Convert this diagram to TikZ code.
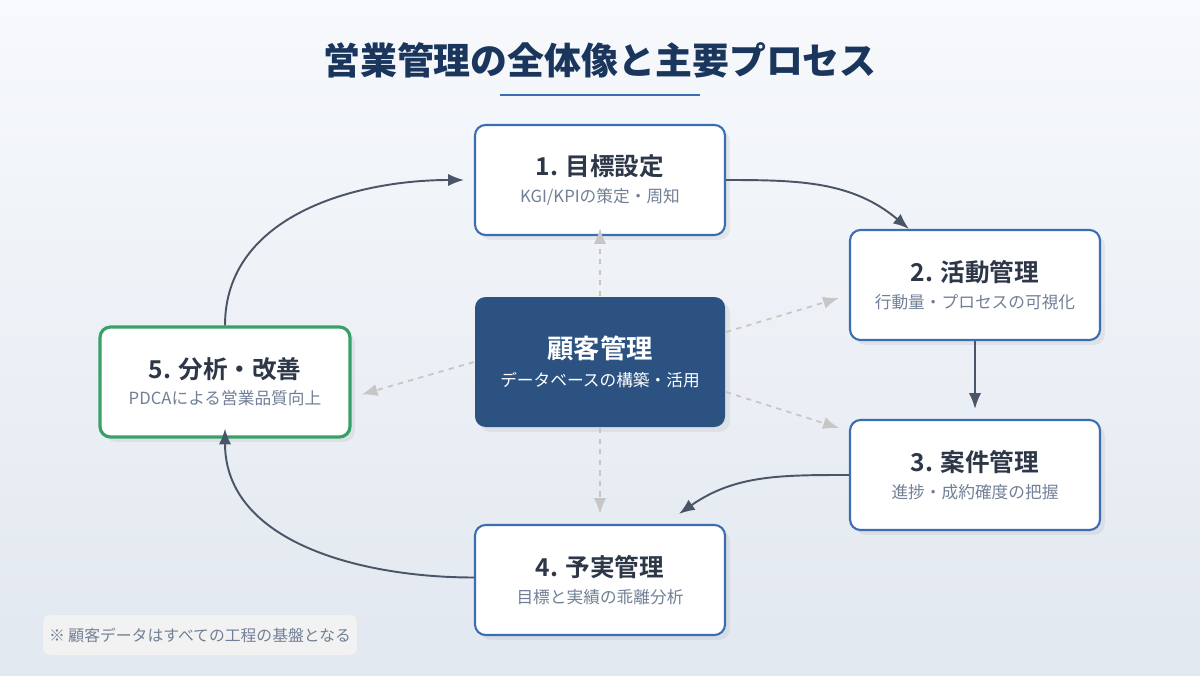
\documentclass[tikz,border=0pt]{standalone}
\usepackage{fontspec}
\setmainfont{Noto Sans CJK JP}[BoldFont={Noto Sans CJK JP Bold}]
\newfontfamily\heavy{Noto Sans CJK JP Black}
\usetikzlibrary{positioning,arrows.meta,shadows}
\definecolor{navy}{HTML}{2C5282}
\definecolor{ink}{HTML}{2D3748}
\definecolor{deep}{HTML}{1A365D}
\definecolor{sub}{HTML}{718096}
\definecolor{edge}{HTML}{3B6DB3}
\definecolor{okgreen}{HTML}{38A169}
\definecolor{arr}{HTML}{4A5568}
\definecolor{bgtop}{HTML}{F7F9FC}
\definecolor{bgbot}{HTML}{E2E8F0}
\tikzset{
  stage/.style={rectangle, rounded corners=6pt, draw=edge, line width=1.2pt, fill=white,
    minimum width=5cm, minimum height=2.2cm, align=center, drop shadow={opacity=0.12}},
  flow/.style={-{Latex[length=9pt,width=7pt]}, draw=arr, line width=1.1pt},
  feed/.style={-{Latex[length=9pt,width=7pt]}, draw=gray!45, line width=1pt, dash pattern=on 3pt off 3pt},
  note/.style={font=\fontsize{9}{11}\selectfont, text=sub}
}
\begin{document}
\begin{tikzpicture}
	\shade[top color=bgtop, bottom color=bgbot] (0,0) rectangle (24,13.5);
	\useasboundingbox (0,0) rectangle (24,13.5);

	\node[font=\heavy\fontsize{21}{25}\selectfont, text=deep] (title) at (12,12.3) {営業管理の全体像と主要プロセス};
	\draw[edge, line width=1.5pt] (10,11.6) -- (14,11.6);

	\node[stage] (goal) at (12,9.9) {\textbf{\fontsize{14}{16}\selectfont\color{ink}1. 目標設定}\\[3pt]{\color{sub}\fontsize{9.5}{11}\selectfont KGI/KPIの策定・周知}};
	\node[stage] (act) at (19.5,7.8) {\textbf{\fontsize{14}{16}\selectfont\color{ink}2. 活動管理}\\[3pt]{\color{sub}\fontsize{9.5}{11}\selectfont 行動量・プロセスの可視化}};
	\node[stage] (deal) at (19.5,4.0) {\textbf{\fontsize{14}{16}\selectfont\color{ink}3. 案件管理}\\[3pt]{\color{sub}\fontsize{9.5}{11}\selectfont 進捗・成約確度の把握}};
	\node[stage] (plan) at (12,1.9) {\textbf{\fontsize{14}{16}\selectfont\color{ink}4. 予実管理}\\[3pt]{\color{sub}\fontsize{9.5}{11}\selectfont 目標と実績の乖離分析}};
	\node[stage, draw=okgreen, line width=1.8pt] (improve) at (4.5,5.86) {\textbf{\fontsize{14}{16}\selectfont\color{ink}5. 分析・改善}\\[3pt]{\color{sub}\fontsize{9.5}{11}\selectfont PDCAによる営業品質向上}};
	\node[stage, draw=none, fill=navy, minimum height=2.6cm] (crm) at (12,6.26) {\textbf{\fontsize{15}{18}\selectfont\color{white}顧客管理}\\[4pt]{\color{white}\fontsize{9.5}{11}\selectfont データベースの構築・活用}};

	% main cycle
	\draw[flow] (goal.east) to[out=0, in=140] ([xshift=1.2cm]act.north west);
	\draw[flow] (act.south) -- ([yshift=0.2cm]deal.north);
	\draw[flow] (deal.west) to[out=180, in=35] ([xshift=4.1cm,yshift=0.2cm]plan.north west);
	\draw[flow] ([yshift=0.05cm]plan.west) to[out=180, in=270] ([yshift=0.2cm]improve.south);
	\draw[flow] (improve.north) to[out=90, in=180] ([xshift=-0.2cm]goal.west);

	% customer data feeds
	\draw[feed] (crm.north) -- ([yshift=0.16cm]goal.south);
	\draw[feed] ([yshift=0.6cm]crm.east) -- ([xshift=-0.2cm,yshift=-0.26cm]act.west);
	\draw[feed] ([yshift=-0.6cm]crm.east) -- ([xshift=-0.2cm,yshift=0.94cm]deal.west);
	\draw[feed] (crm.south) -- ([yshift=0.2cm]plan.north);
	\draw[feed] (crm.west) -- ([xshift=0.2cm,yshift=-0.25cm]improve.east);

	\node[rectangle, rounded corners=4pt, fill=gray!10, minimum width=6cm, minimum height=0.8cm, note] (memo) at (4,0.8) {※ 顧客データはすべての工程の基盤となる};
\end{tikzpicture}
\end{document}
